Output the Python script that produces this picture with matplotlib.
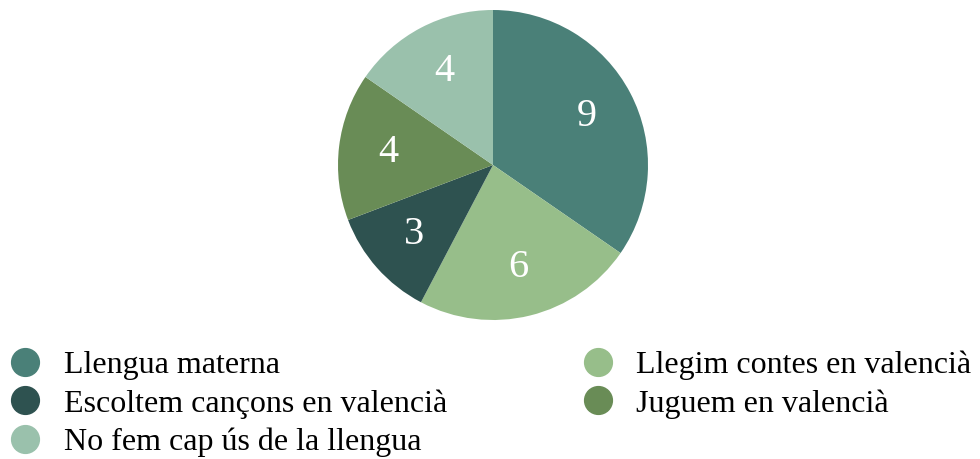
import matplotlib.pyplot as plt
from matplotlib.lines import Line2D

plt.rcParams['font.family'] = ['Liberation Serif', 'DejaVu Serif']

labels = ["Llengua materna", "Llegim contes en valencià", "Escoltem cançons en valencià",
          "Juguem en valencià", "No fem cap ús de la llengua"]
values = [9, 6, 3, 4, 4]
colors = ["#4a8078", "#97be8a", "#2e5250", "#698c56", "#9ac1ac"]

fig = plt.figure(figsize=(9.8, 4.59), dpi=100)
W, H = 980, 459

# pie sits in a square axes centred at (493, 165) px, radius 155 px
ax = fig.add_axes([338 / W, (H - 320) / H, 310 / W, 310 / H])
wedges, texts = ax.pie(values, colors=colors, startangle=90, counterclock=False,
                       labels=[str(v) for v in values], labeldistance=0.68,
                       textprops=dict(color="white", fontsize=29, ha="center", va="center"))
ax.set_xlim(-1, 1)
ax.set_ylim(-1, 1)
ax.set_aspect("equal")

handles = [Line2D([], [], marker="o", linestyle="", markersize=20,
                  markerfacecolor=c, markeredgecolor=c) for c in colors]
order = [0, 2, 4, 1, 3]
fig.legend([handles[i] for i in order], [labels[i] for i in order],
           ncol=2, loc="upper left", bbox_to_anchor=(6 / W, 1 - 351 / H),
           frameon=False, fontsize=23, handlelength=1.2, handletextpad=0.62,
           labelspacing=0.27, columnspacing=4.1, borderpad=0, borderaxespad=0)

fig.savefig("out.png", dpi=100)
